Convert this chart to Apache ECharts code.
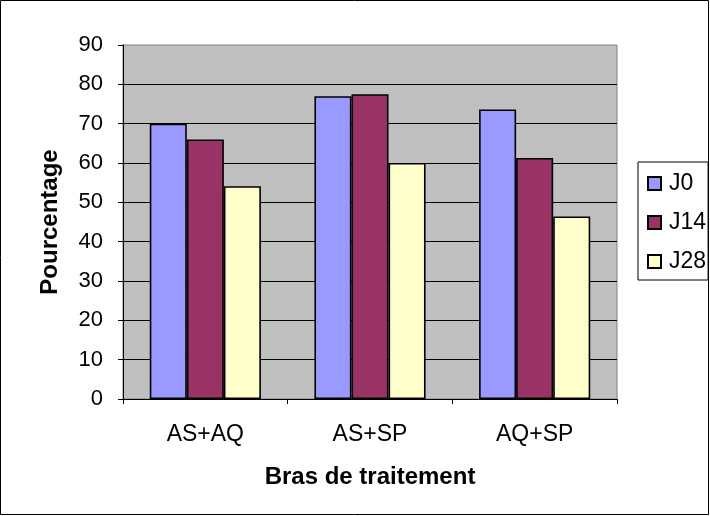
<!DOCTYPE html>
<html><head><meta charset="utf-8">
<script src="https://cdn.jsdelivr.net/npm/echarts@6/dist/echarts.min.js"></script>
<style>html,body{margin:0;padding:0;background:#fff}#c{width:710px;height:516px}</style>
</head><body><div id="c"></div>
<script>
var categories = ['AS+AQ', 'AS+SP', 'AQ+SP'];
var seriesNames = ['J0', 'J14', 'J28'];
var j0 = [70, 77, 73.6];
var j14 = [66, 77.5, 61.3];
var j28 = [54.1, 60, 46.4];
var colors = ['#9999FF', '#993366', '#FFFFCC'];
var values = [j0, j14, j28];
var font = '"Liberation Sans", Arial, sans-serif';
var chart = echarts.init(document.getElementById('c'));
chart.setOption({
  animation: false,
  textStyle: {fontFamily: font},
  grid: {left: 123, right: 93, top: 45, bottom: 117, show: true, backgroundColor: '#C0C0C0', borderColor: '#808080', borderWidth: 1},
  graphic: [{type: 'rect', shape: {x: 0.5, y: 0.5, width: 708, height: 514}, style: {fill: null, stroke: '#000', lineWidth: 1}, silent: true, z: -1}],
  legend: {
    orient: 'vertical', left: 638, top: 162,
    data: seriesNames,
    itemWidth: 13, itemHeight: 13, itemGap: 16,
    padding: [10, 2, 7, 9],
    borderColor: '#000', borderWidth: 1,
    textStyle: {fontFamily: font, fontSize: 23, lineHeight: 23, color: '#000', padding: [0, 0, 0, 3]},
    icon: 'rect'
  },
  xAxis: {
    type: 'category', data: categories,
    name: 'Bras de traitement', nameLocation: 'middle', nameGap: 66,
    nameTextStyle: {fontFamily: font, fontSize: 24, fontWeight: 'bold', color: '#000'},
    axisLine: {lineStyle: {color: '#000'}},
    axisTick: {show: true, length: 5, lineStyle: {color: '#000'}},
    axisLabel: {fontFamily: font, fontSize: 23, color: '#000', margin: 24},
    splitLine: {show: false}
  },
  yAxis: {
    type: 'value', min: 0, max: 90, interval: 10,
    name: 'Pourcentage', nameLocation: 'middle', nameGap: 61, nameRotate: 90,
    nameTextStyle: {fontFamily: font, fontSize: 24, fontWeight: 'bold', color: '#000'},
    axisLine: {show: true, lineStyle: {color: '#000'}},
    axisTick: {show: true, length: 5, lineStyle: {color: '#000'}},
    axisLabel: {fontFamily: font, fontSize: 22, color: '#000', margin: 20},
    splitLine: {show: true, showMaxLine: false, lineStyle: {color: '#000', width: 1}}
  },
  series: seriesNames.map(function (n, i) {
    return {
      name: n, type: 'bar', data: values[i],
      barGap: '0%', barCategoryGap: '32.5%',
      itemStyle: {color: colors[i], borderColor: '#000', borderWidth: 1.6}
    };
  })
});
</script></body></html>
